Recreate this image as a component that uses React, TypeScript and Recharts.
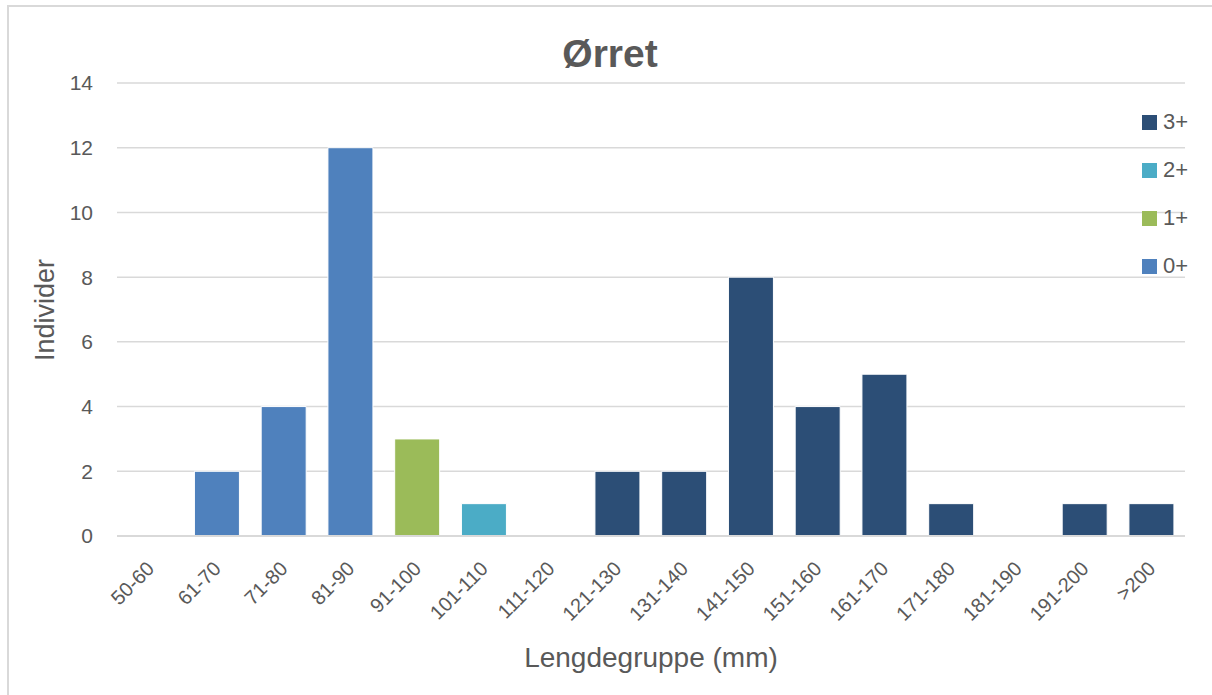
import { BarChart, Bar, CartesianGrid, XAxis, YAxis } from 'recharts';

const categories = [
  '50-60', '61-70', '71-80', '81-90', '91-100', '101-110', '111-120', '121-130',
  '131-140', '141-150', '151-160', '161-170', '171-180', '181-190', '191-200', '>200',
];
const age0 = [0, 2, 4, 12, 0, 0, 0, 0, 0, 0, 0, 0, 0, 0, 0, 0];
const age1 = [0, 0, 0, 0, 3, 0, 0, 0, 0, 0, 0, 0, 0, 0, 0, 0];
const age2 = [0, 0, 0, 0, 0, 1, 0, 0, 0, 0, 0, 0, 0, 0, 0, 0];
const age3 = [0, 0, 0, 0, 0, 0, 0, 2, 2, 8, 4, 5, 1, 0, 1, 1];
const yTicks = [0, 2, 4, 6, 8, 10, 12, 14];

const series = [
  { key: 'a3', name: '3+', color: '#2c4e76' },
  { key: 'a2', name: '2+', color: '#4bacc6' },
  { key: 'a1', name: '1+', color: '#9bbb59' },
  { key: 'a0', name: '0+', color: '#4f81bd' },
];

const data = categories.map((c, i) => ({ cat: c, a0: age0[i], a1: age1[i], a2: age2[i], a3: age3[i] }));

const FONT = '"Liberation Sans", Arial, sans-serif';
const TEXT = '#595959';

const XTick = (props: any) => {
  const { x, y, payload } = props;
  const ax = x + 5;
  const ay = y + 26;
  return (
    <text
      x={ax}
      y={ay}
      transform={`rotate(-45, ${ax}, ${ay})`}
      textAnchor="end"
      fontSize={20}
      fontFamily={FONT}
      fill={TEXT}
    >
      {payload.value}
    </text>
  );
};

export default function App() {
  return (
    <div style={{ position: 'absolute', left: 0, top: 0, width: 1212, height: 695, overflow: 'hidden', background: '#fff' }}>
      <div
        style={{
          position: 'absolute',
          left: 7,
          top: 5,
          width: 1220,
          height: 700,
          border: '2px solid #d9d9d9',
          boxSizing: 'border-box',
        }}
      />
      <div
        style={{
          position: 'absolute',
          left: 0,
          top: 31,
          width: 1220,
          textAlign: 'center',
          fontFamily: FONT,
          fontWeight: 'bold',
          fontSize: 39,
          lineHeight: '46px',
          color: TEXT,
        }}
      >
        Ørret
      </div>
      <div style={{ position: 'absolute', left: 0, top: 0 }}>
        <BarChart
          width={1212}
          height={695}
          data={data}
          margin={{ top: 83, right: 27, left: 57, bottom: 39 }}
          barCategoryGap="16%"
        >
          <CartesianGrid stroke="#d9d9d9" strokeWidth={1.5} vertical={false} />
          <XAxis
            dataKey="cat"
            interval={0}
            height={120}
            axisLine={{ stroke: '#d9d9d9', strokeWidth: 2 }}
            tickLine={false}
            tick={<XTick />}
          />
          <YAxis
            width={60}
            domain={[0, 14]}
            ticks={yTicks}
            axisLine={false}
            tickLine={false}
            tick={{ fontSize: 21, fill: TEXT, fontFamily: FONT }}
            tickMargin={18}
          />
          {[...series].reverse().map((s) => (
            <Bar key={s.key} dataKey={s.key} name={s.name} stackId="a" fill={s.color} stroke="#ffffff" strokeWidth={1} isAnimationActive={false} />
          ))}
        </BarChart>
      </div>
      <div
        style={{
          position: 'absolute',
          left: 651 - 200,
          top: 658 - 17,
          width: 400,
          textAlign: 'center',
          fontFamily: FONT,
          fontSize: 28,
          lineHeight: '34px',
          color: TEXT,
        }}
      >
        Lengdegruppe (mm)
      </div>
      <div
        style={{
          position: 'absolute',
          left: 45 - 100,
          top: 310 - 17,
          width: 200,
          textAlign: 'center',
          fontFamily: FONT,
          fontSize: 27,
          lineHeight: '34px',
          color: TEXT,
          transform: 'rotate(-90deg)',
        }}
      >
        Individer
      </div>
      <div style={{ position: 'absolute', left: 1142, top: 98, fontFamily: FONT, fontSize: 22, color: TEXT }}>
        {series.map((s) => (
          <div key={s.key} style={{ display: 'flex', alignItems: 'center', height: 48 }}>
            <span style={{ width: 15, height: 15, background: s.color, marginRight: 6, display: 'inline-block' }} />
            <span>{s.name}</span>
          </div>
        ))}
      </div>
    </div>
  );
}
